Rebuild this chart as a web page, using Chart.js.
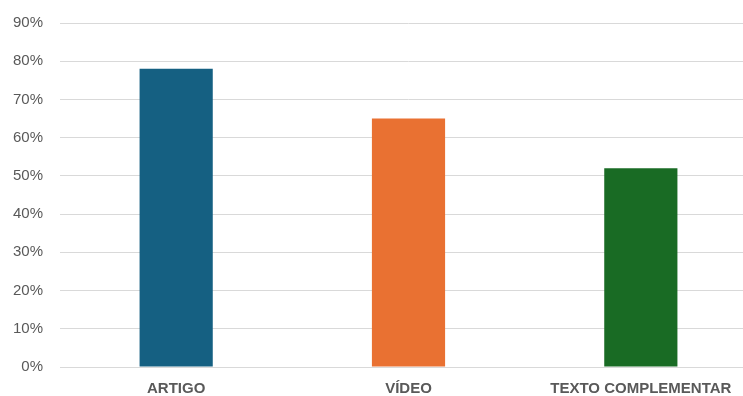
<!DOCTYPE html>
<html>
<head>
<meta charset="utf-8">
<script src="https://cdn.jsdelivr.net/npm/chart.js@4"></script>
<style>
  html, body { margin: 0; padding: 0; background: #fff; overflow: hidden; }
  #wrap { width: 757px; height: 396px; }
</style>
</head>
<body>
<div id="wrap"><canvas id="barChart" width="757" height="396"></canvas></div>
<script>
// dados
const categorias = ['ARTIGO', 'VÍDEO', 'TEXTO COMPLEMENTAR'];
const valores = [78, 65, 52];
const cores = ['#156082', '#E97132', '#196B24'];
const yMax = 90;
const yPasso = 10;

// BAR - percentuais por tipo de material
new Chart(document.getElementById('barChart'), {
  type: 'bar',
  data: {
    labels: categorias,
    datasets: [{
      data: valores,
      backgroundColor: cores,
      borderWidth: 0,
      barPercentage: 0.315,
      categoryPercentage: 1
    }]
  },
  options: {
    responsive: false,
    animation: false,
    layout: { padding: { top: 23, left: 0, right: 0, bottom: 0 } },
    plugins: { legend: { display: false }, tooltip: { enabled: false } },
    scales: {
      y: {
        min: 0, max: yMax,
        ticks: {
          stepSize: yPasso,
          callback: v => v + '%',
          color: '#595959',
          padding: 17,
          font: { family: 'Liberation Sans, Arial, sans-serif', size: 15 }
        },
        grid: { color: '#d9d9d9', drawTicks: false },
        border: { display: false },
        afterFit: a => { a.width = 60; a.paddingTop = 0; }
      },
      x: {
        ticks: {
          color: '#595959',
          padding: 13,
          font: { family: 'Liberation Sans Narrow, Arial Narrow, sans-serif', size: 15, weight: 'bold' }
        },
        grid: { display: false, drawTicks: false },
        border: { color: '#d9d9d9' },
        afterFit: a => { a.height = 29; }
      }
    }
  }
});
</script>
</body>
</html>
